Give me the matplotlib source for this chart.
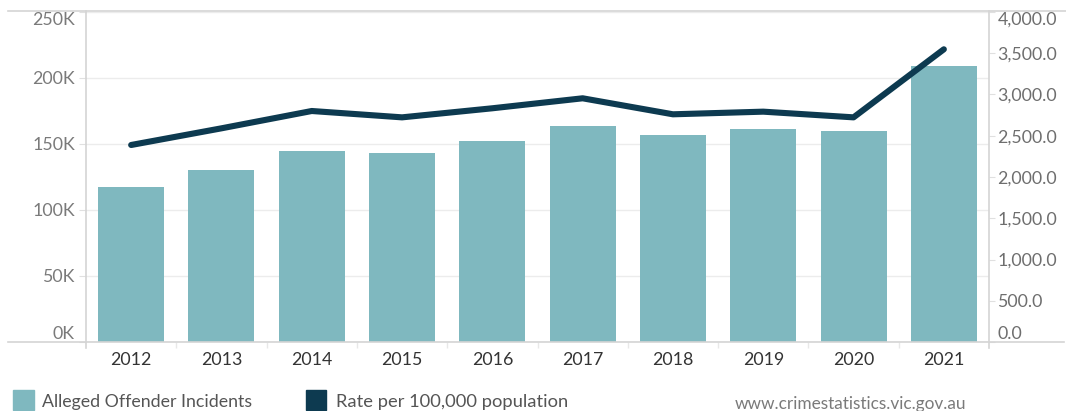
import matplotlib
matplotlib.use("Agg")
import matplotlib.pyplot as plt
from matplotlib.lines import Line2D
from matplotlib.patches import Rectangle
from matplotlib.ticker import FuncFormatter

# data
years = ["2012", "2013", "2014", "2015", "2016", "2017", "2018", "2019", "2020", "2021"]
incidents = [117400, 130300, 144700, 143200, 152300, 163600, 156800, 161400, 159800, 209100]
rate = [2388, 2590, 2800, 2723, 2833, 2954, 2760, 2792, 2723, 3548]

BAR = "#7fb8bf"
LINE = "#0d3a50"
RULE = "#d4d4d4"

plt.rcParams['font.family'] = ['Lato', 'DejaVu Sans']

W, H = 1066, 411
fig = plt.figure(figsize=(W / 100, H / 100), dpi=100)

def fx(px):
    return px / W

def fy(py):
    return 1 - py / H

ax = fig.add_axes([fx(86), fy(342), fx(989 - 86), (342 - 12) / H])
ax2 = ax.twinx()

xs = range(len(years))
ax.bar(xs, incidents, width=0.73, color=BAR, zorder=2)
ax2.plot(xs, rate, color=LINE, lw=4.4, solid_capstyle='round', solid_joinstyle='round')

ax.set_xlim(-0.5, len(years) - 0.5)
ax.set_ylim(0, 250000)
ax2.set_ylim(0, 4000)

ax.set_yticks(range(0, 250001, 50000))
ax.yaxis.set_major_formatter(FuncFormatter(lambda v, p: f"{int(v / 1000)}K"))
ax2.set_yticks(range(0, 4001, 500))
ax2.yaxis.set_major_formatter(FuncFormatter(lambda v, p: f"{v:,.1f}"))

ax.set_axisbelow(True)
ax.grid(axis='y', color='#ececec', lw=1)

for a in (ax, ax2):
    for s in a.spines.values():
        s.set_visible(False)

ax.set_xticks(list(xs), years)
ax.set_xticks([i + 0.5 for i in range(len(years) - 1)], minor=True)
ax.tick_params(axis='x', which='major', length=0, pad=7, labelsize=12.8, labelcolor='#333333')
ax.tick_params(axis='x', which='minor', length=4.5, color='#e8e8e8', width=1)
ax.tick_params(axis='y', length=5, color='#e0e0e0', pad=3, labelsize=12.8, labelcolor='#7a7a7a')
ax2.tick_params(axis='y', length=4, color='#e0e0e0', pad=2, labelsize=12.8, labelcolor='#6e6e6e')

# Tableau pulls the end labels inside the axis range
lt = ax.yaxis.get_major_ticks()
lt[0].label1.set_va('bottom')
lt[-1].label1.set_va('top')
rt = ax2.yaxis.get_major_ticks()
rt[0].label2.set_va('bottom')
rt[-1].label2.set_va('top')

# frame lines
fig.add_artist(Line2D([fx(8), fx(1066)], [fy(11), fy(11)], color=RULE, lw=1.2))
fig.add_artist(Line2D([fx(8), fx(1064)], [fy(342), fy(342)], color=RULE, lw=1.2))
fig.add_artist(Line2D([fx(86), fx(86)], [fy(11), fy(348)], color=RULE, lw=1.2))
fig.add_artist(Line2D([fx(989), fx(989)], [fy(11), fy(348)], color=RULE, lw=1.2))

# legend
fig.add_artist(Rectangle((fx(13), fy(410)), fx(21), 20 / H, color=BAR))
fig.text(fx(42), fy(402), "Alleged Offender Incidents", fontsize=12.8, color='#555555', va='center')
fig.add_artist(Rectangle((fx(306), fy(410)), fx(20), 20 / H, color=LINE))
fig.text(fx(336), fy(402), "Rate per 100,000 population", fontsize=13.2, color='#555555', va='center')
fig.text(fx(735), fy(404), "www.crimestatistics.vic.gov.au", fontsize=12.4, color='#7a7a7a', va='center')

fig.savefig("out.png", dpi=100)
